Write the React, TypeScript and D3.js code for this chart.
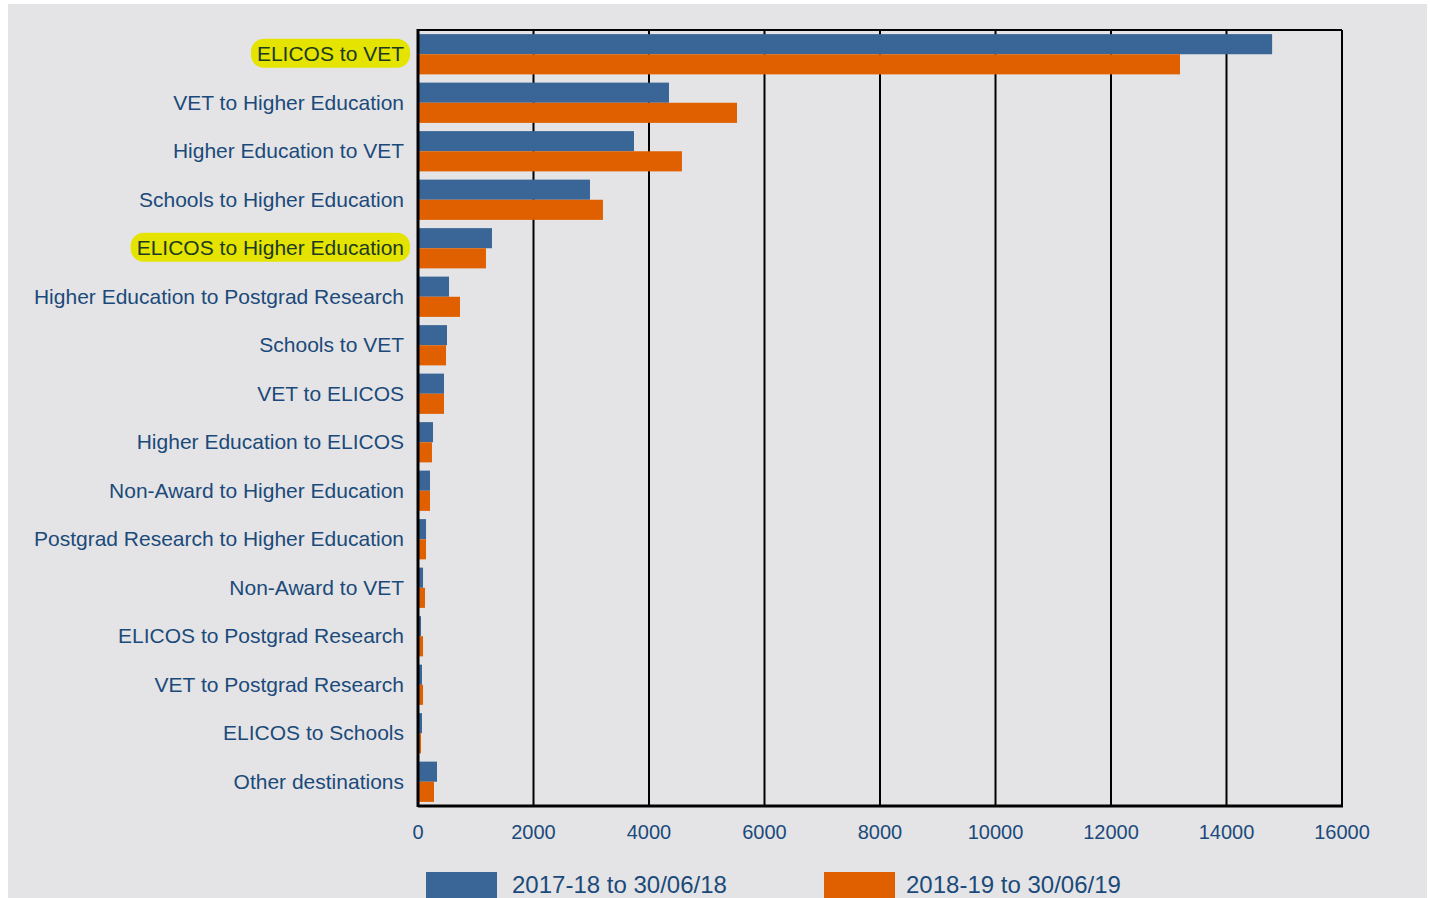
import React from "react";
import * as d3 from "d3";

const categories = [
  "ELICOS to VET",
  "VET to Higher Education",
  "Higher Education to VET",
  "Schools to Higher Education",
  "ELICOS to Higher Education",
  "Higher Education to Postgrad Research",
  "Schools to VET",
  "VET to ELICOS",
  "Higher Education to ELICOS",
  "Non-Award to Higher Education",
  "Postgrad Research to Higher Education",
  "Non-Award to VET",
  "ELICOS to Postgrad Research",
  "VET to Postgrad Research",
  "ELICOS to Schools",
  "Other destinations",
];
const highlighted = ["ELICOS to VET", "ELICOS to Higher Education"];
const series1 = [14790, 4346, 3740, 2978, 1281, 537, 502, 450, 260, 208, 139, 87, 52, 69, 69, 329];
const series2 = [13195, 5524, 4571, 3203, 1177, 727, 485, 450, 242, 208, 139, 121, 87, 87, 52, 277];
const seriesNames = ["2017-18 to 30/06/18", "2018-19 to 30/06/19"];
const xTicks = [0, 2000, 4000, 6000, 8000, 10000, 12000, 14000, 16000];

const BLUE = "#3a6597";
const ORANGE = "#e06000";
const TEXT = "#1b4a7a";
const FONT = "'Liberation Sans', Arial, sans-serif";

let ctx: CanvasRenderingContext2D | null = null;
function measure(s: string, size: number) {
  if (!ctx) ctx = document.createElement("canvas").getContext("2d");
  if (!ctx) return s.length * size * 0.52;
  ctx.font = `${size}px 'Liberation Sans', Arial, sans-serif`;
  return ctx.measureText(s).width;
}

export default function App() {
  const left = 418, right = 1342, top = 30, bottom = 806;
  const x = d3.scaleLinear().domain([0, 16000]).range([left, right]);
  const y = d3.scaleBand<string>().domain(categories).range([top, bottom]).paddingInner(0.17).paddingOuter(0.085);
  const bw = y.bandwidth() / 2;
  const LS = 21;

  return (
    <svg width={1430} height={898} style={{ position: "absolute", left: 0, top: 0 }}>
      <rect x={8} y={4} width={1419} height={894} fill="#e4e4e6" />
      {xTicks.slice(1, -1).map((t) => (
        <line key={t} x1={x(t)} x2={x(t)} y1={top} y2={bottom} stroke="#000" strokeWidth={2} />
      ))}
      {categories.map((c, i) => (
        <g key={c}>
          <rect x={x(0)} y={y(c)!} width={x(series1[i]) - x(0)} height={bw} fill={BLUE} />
          <rect x={x(0)} y={y(c)! + bw} width={x(series2[i]) - x(0)} height={bw} fill={ORANGE} />
        </g>
      ))}
      <line x1={left} x2={right} y1={top} y2={top} stroke="#000" strokeWidth={2} />
      <line x1={right} x2={right} y1={top} y2={bottom} stroke="#000" strokeWidth={2} />
      <line x1={left} x2={right + 1} y1={bottom} y2={bottom} stroke="#000" strokeWidth={3} />
      <line x1={left} x2={left} y1={top - 1} y2={bottom + 1} stroke="#000" strokeWidth={3} />
      {categories.map((c) => {
        const cy = y(c)! + y.bandwidth() / 2 - 0.5;
        const hl = highlighted.includes(c);
        const w = measure(c, LS);
        return (
          <g key={c}>
            {hl && (
              <rect x={404 - w - 6} y={cy - 15} width={w + 12} height={29} rx={13} fill="#e4e400" />
            )}
            <text x={404} y={cy} dy="0.35em" textAnchor="end" fontFamily={FONT} fontSize={LS} fill={hl ? "#1d3a22" : TEXT}>
              {c}
            </text>
          </g>
        );
      })}
      {xTicks.map((t) => (
        <text key={t} x={x(t)} y={839} textAnchor="middle" fontFamily={FONT} fontSize={20} fill={TEXT}>
          {t}
        </text>
      ))}
      <rect x={426} y={872} width={71} height={30} fill={BLUE} />
      <text x={512} y={893} fontFamily={FONT} fontSize={24} fill={TEXT}>{seriesNames[0]}</text>
      <rect x={824} y={872} width={71} height={30} fill={ORANGE} />
      <text x={906} y={893} fontFamily={FONT} fontSize={24} fill={TEXT}>{seriesNames[1]}</text>
    </svg>
  );
}
